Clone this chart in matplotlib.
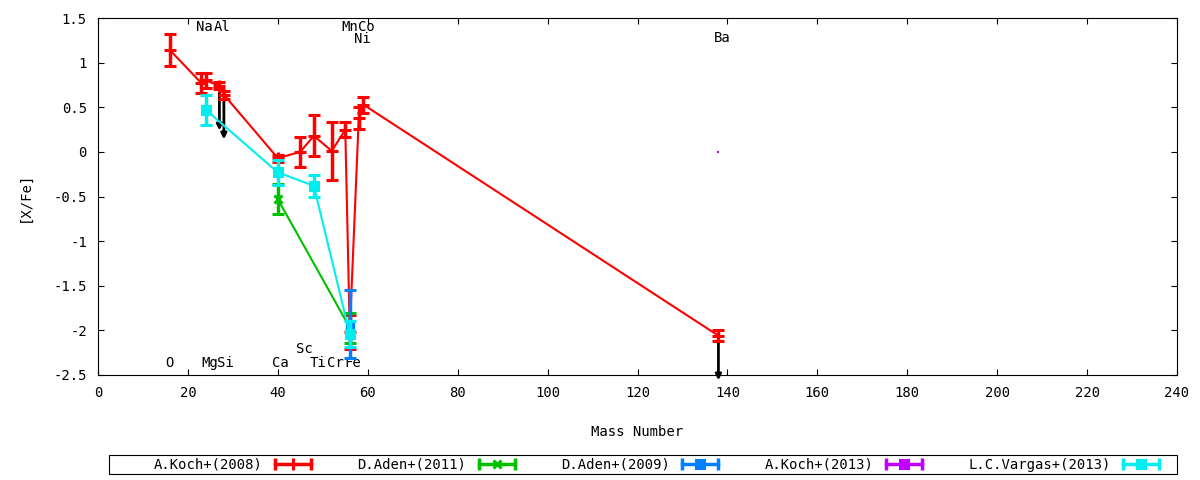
import matplotlib

matplotlib.use("Agg")
import matplotlib.pyplot as plt
from matplotlib.lines import Line2D
from matplotlib.legend_handler import HandlerLine2D, HandlerTuple
from matplotlib.patches import Rectangle
from matplotlib.ticker import FuncFormatter

plt.rcParams["font.family"] = ["DejaVu Sans Mono", "DejaVu Sans"]
plt.rcParams["axes.unicode_minus"] = False
FS = 10

# A.Koch+(2008)
koch08_mass = [16, 23, 24, 27, 28, 40, 45, 48, 52, 55, 56, 58, 59, 138]
koch08_xfe = [1.14, 0.77, 0.80, 0.74, 0.64, -0.07, 0.0, 0.18, 0.01, 0.25,
              -2.02, 0.38, 0.53, -2.06]
koch08_err = [0.18, 0.11, 0.08, 0.04, 0.045, 0.04, 0.17, 0.23, 0.32, 0.08,
              0.19, 0.12, 0.09, 0.06]

# upper limits (black arrows)
ul_mass = [27, 28, 138]
ul_from = [0.74, 0.64, -2.06]
ul_to = [0.24, 0.14, -2.56]

# D.Aden+(2011)
aden11_mass = [40, 56]
aden11_xfe = [-0.53, -1.97]
aden11_err = [0.17, 0.17]

# D.Aden+(2009)
aden09_mass = [56]
aden09_xfe = [-1.93]
aden09_err = [0.38]

# A.Koch+(2013)
koch13_mass = [138]
koch13_xfe = [0.0]
koch13_err = [0.0]

# L.C.Vargas+(2013)
vargas_mass = [24, 40, 48, 56]
vargas_xfe = [0.47, -0.23, -0.38, -2.04]
vargas_err = [0.17, 0.14, 0.12, 0.15]

# element name annotations (text, x, y)
elem_names = ["O", "Na", "Mg", "Al", "Si", "Ca", "Sc", "Ti", "Cr", "Mn",
              "Fe", "Co", "Ni", "Ba"]
elem_x = [16.0, 23.7, 24.8, 27.7, 28.4, 40.5, 45.9, 49.0, 52.7, 55.9,
          56.7, 59.7, 58.8, 138.9]
elem_y = [-2.37, 1.40, -2.37, 1.40, -2.37, -2.37, -2.21, -2.37, -2.37, 1.40,
          -2.37, 1.40, 1.26, 1.28]

RED = "#ff0000"
GREEN = "#00c000"
BLUE = "#0080ff"
PURPLE = "#c000ff"
CYAN = "#00eeee"

fig = plt.figure(figsize=(12, 4.8), dpi=100)
ax = fig.add_axes([98 / 1200, 105 / 480, 1079 / 1200, 357 / 480])

series = [
    ("A.Koch+(2008)", koch08_mass, koch08_xfe, koch08_err, RED, "+", 8),
    ("D.Aden+(2011)", aden11_mass, aden11_xfe, aden11_err, GREEN, "x", 6),
    ("D.Aden+(2009)", aden09_mass, aden09_xfe, aden09_err, BLUE, "s", 5),
    ("A.Koch+(2013)", koch13_mass, koch13_xfe, koch13_err, PURPLE, "s", 1.5),
    ("L.C.Vargas+(2013)", vargas_mass, vargas_xfe, vargas_err, CYAN, "s", 6),
]

handles, labels, hmap = [], [], {}
for i, (name, xs, ys, es, col, mk, ms) in enumerate(series):
    caps = 4 if max(es) > 0 else 0
    ax.errorbar(xs, ys, yerr=es, color=col, marker=mk, ms=ms,
                mew=2.2 if ms > 2 else 0, lw=1.5, elinewidth=2.5,
                capsize=caps, capthick=2.5, zorder=3 + i)
    ends = Line2D([], [], color=col, lw=2.5, marker="|", ms=8, mew=2.5)
    mid = Line2D([], [], color=col, ls="none", marker=mk,
                 ms=max(ms, 6), mew=2.2)
    hmap[ends] = HandlerLine2D(numpoints=2)
    hmap[mid] = HandlerLine2D(numpoints=1)
    handles.append((ends, mid))
    labels.append(name)
hmap[tuple] = HandlerTuple(ndivide=1, pad=0)

for m, y0, y1 in zip(ul_mass, ul_from, ul_to):
    ax.annotate("", xy=(m, y1), xytext=(m, y0), annotation_clip=False,
                arrowprops=dict(arrowstyle="-|>", color="black", lw=2,
                                mutation_scale=8, shrinkA=0, shrinkB=0),
                zorder=2)

for name, x, y in zip(elem_names, elem_x, elem_y):
    ax.text(x, y, name, ha="center", va="center", fontsize=FS)

ax.set_xlim(0, 240)
ax.set_ylim(-2.5, 1.5)
ax.set_xticks(range(0, 241, 20))
ax.set_yticks([-2.5, -2, -1.5, -1, -0.5, 0, 0.5, 1, 1.5])
ax.yaxis.set_major_formatter(FuncFormatter(lambda v, p: f"{v:g}"))
ax.tick_params(direction="in", top=True, right=True, length=4, width=0.8,
               labelsize=FS, pad=8)
for sp in ax.spines.values():
    sp.set_linewidth(0.8)

ax.set_xlabel("Mass Number", fontsize=FS)
ax.xaxis.set_label_coords(0.5, -0.14)
ax.set_ylabel("[X/Fe]", fontsize=FS)
ax.yaxis.set_label_coords(-0.061, 0.5)

# legend frame spans the full width, entries sit inside it
fig.add_artist(Rectangle((109 / 1200, 6 / 480), 1068 / 1200, 19 / 480,
                         transform=fig.transFigure, fill=False,
                         edgecolor="black", lw=0.8))
fig.legend(handles, labels, handler_map=hmap, ncol=5, mode="expand",
           loc="center", bbox_to_anchor=(152 / 1200, 6 / 480, 1013 / 1200, 19 / 480),
           frameon=False, markerfirst=False, fontsize=FS, handlelength=3.2,
           handletextpad=0.6, borderpad=0.1, borderaxespad=0)

fig.savefig("out.png", dpi=100, facecolor="white")
